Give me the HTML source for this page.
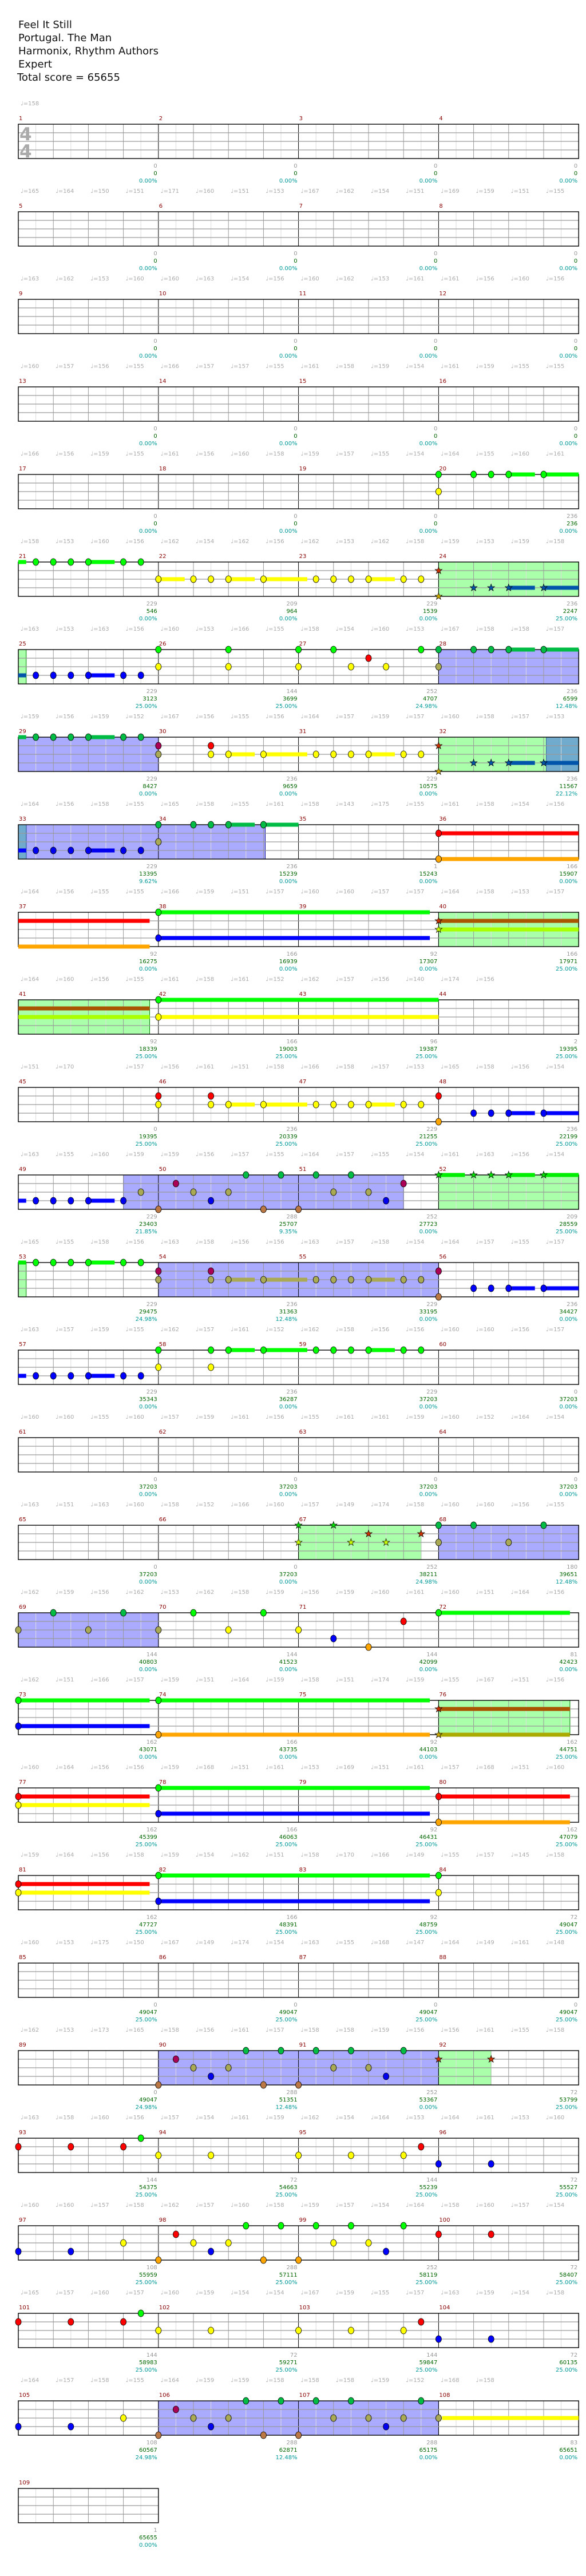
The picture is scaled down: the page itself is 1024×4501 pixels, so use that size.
<!DOCTYPE html>
<html><head><meta charset="utf-8">
<style>
html,body{margin:0;padding:0;background:#fff;}
svg{display:block;}
text{font-family:"DejaVu Sans","Liberation Sans",sans-serif;}
.hd{font-size:18px;fill:#111;}
.mn{font-size:10px;fill:#880000;}
.tp{font-size:10px;fill:#aaaaaa;}
.f1{font-size:10px;fill:#999999;}
.f2{font-size:10px;fill:#006600;}
.f3{font-size:10px;fill:#009999;}
</style></head>
<body>
<svg id="s" xmlns="http://www.w3.org/2000/svg" width="1024" height="4501" viewBox="0 0 1024 4501">
<rect width="1024" height="4501" fill="#fff"/>
<text class="hd" x="32" y="49">Feel It Still</text>
<text class="hd" x="32" y="72">Portugal. The Man</text>
<text class="hd" x="32" y="95">Harmonix, Rhythm Authors</text>
<text class="hd" x="32" y="118">Expert</text>
<text class="hd" x="30" y="141">Total score = 65655</text>
<g id="L0"></g><g id="L1"></g><g id="L2"></g><g id="L3"></g><g id="L4"></g><g id="L5"></g>
</svg>
<script>
var NS="http://www.w3.org/2000/svg";
var layers=[0,1,2,3,4,5].map(function(i){return document.getElementById("L"+i);});
function el(layer,tag,attrs,txt){var e=document.createElementNS(NS,tag);for(var k in attrs)e.setAttribute(k,attrs[k]);if(txt!==undefined)e.textContent=txt;layers[layer].appendChild(e);return e;}
function X(p){return 32+p*30.6;}
function T(r){return 217+153*r;}
var C={G:"#00ff00",R:"#ff0000",Y:"#ffff00",B:"#0000ff",O:"#ffa500"};
var CB={G:"#00bb44",R:"#aa0055",Y:"#aaaa55",B:"#0000ee",O:"#bb7744"};
var CG={G:"#00ee00",R:"#aa5500",Y:"#aaff00",B:"#0055aa",O:"#aaaa00"};
var CS={G:"#00dd00",R:"#cc3300",Y:"#ccff00",B:"#0055aa",O:"#ccaa00"};
var regs={};
function reg(r,a,b,t){(regs[r]=regs[r]||[]).push([a,b,t]);
 var col=t=="g"?"#aaffaa":(t=="b"?"#aaaaff":"#70aacc");var st=t=="g"?"#008800":(t=="b"?"#000088":"#336699");
 el(0,"rect",{x:X(a),y:T(r),width:X(b)-X(a),height:60,fill:col,stroke:st,"stroke-width":1});}
function inreg(r,p,t){var L=regs[r]||[];for(var i=0;i<L.length;i++){if(L[i][2]==t&&p>=L[i][0]-0.01&&p<=L[i][1]+0.01)return true;}return false;}
function col(r,p,c){if(inreg(r,p,"b"))return CB[c];if(inreg(r,p,"g"))return CG[c];return C[c];}
function n(r,p,l,c){el(4,"ellipse",{cx:X(p),cy:T(r)+15*l,rx:5,ry:6,fill:col(r,p,c),stroke:"#000","stroke-width":0.8});}
function sus(r,a,b,l,c){var cc=inreg(r,a+0.1,"b")?CB[c]:(inreg(r,a+0.1,"g")?CG[c]:C[c]);
 el(3,"rect",{x:X(a),y:T(r)+15*l-3.5,width:X(b)-X(a),height:7,fill:cc});}
function st(r,p,l,c){var cx=X(p),cy=T(r)+15*l,pts=[];for(var i=0;i<10;i++){var rr=i%2?2.6:6.5,an=-Math.PI/2+i*Math.PI/5;pts.push((cx+rr*Math.cos(an)).toFixed(1)+","+(cy+rr*Math.sin(an)).toFixed(1));}
 el(5,"polygon",{points:pts.join(" "),fill:CS[c],stroke:"#000","stroke-width":0.7});}
function intro(r,l,c,seven){sus(r,0,0.45,l,c);[1,2,3,4].forEach(function(p){n(r,p,l,c);});sus(r,4,5.5,l,c);n(r,6,l,c);if(seven!==false)n(r,7,l,c);}
function riffA(r,l,c){n(r,8,l,c);sus(r,8,9.5,l,c);n(r,10,l,c);n(r,11,l,c);riffTail(r,l,c);}
function riffB(r,l,c){n(r,8,l,c);n(r,11,l,c);riffTail(r,l,c);}
function riffTail(r,l,c){n(r,12,l,c);sus(r,12,13.5,l,c);n(r,14,l,c);sus(r,14,16.5,l,c);[17,18,19,20].forEach(function(p){n(r,p,l,c);});sus(r,20,21.5,l,c);n(r,22,l,c);n(r,23,l,c);}
function tail(r,l,c,star){var f=star?st:n;[26,27,28].forEach(function(p){f(r,p,l,c);});sus(r,28,29.5,l,c);f(r,30,l,c);sus(r,30,32,l,c);}
function starPat(r){reg(r,24,32,"g");st(r,24,1,"R");st(r,24,4,"O");tail(r,3,"B",true);}

/* ---- regions first ---- */
reg(5,24,32,"g");
reg(6,0,0.45,"g");reg(6,24,32,"b");
reg(7,0,8,"b");reg(7,24,32,"g");reg(7,30.15,32,"t");
reg(8,0.45,14.1,"b");reg(8,0,0.45,"t");
reg(9,24,32,"g");reg(10,0,7.5,"g");
reg(12,6,22,"b");reg(12,24,32,"g");
reg(13,0,0.45,"g");reg(13,8,24,"b");
reg(16,16,23,"g");reg(16,24,32,"b");
reg(17,0,8,"b");reg(18,24,31.5,"g");
reg(22,8,24,"b");reg(22,24,27,"g");
reg(26,8,24,"b");

/* ---- grid ---- */
var tempos={
0:[158],
1:[165,164,150,151,171,160,151,153,167,162,154,151,169,159,151,155],
2:[163,162,153,160,160,163,154,156,160,162,153,161,161,156,160,156],
3:[160,157,156,155,166,157,157,155,161,158,159,154,161,159,155,155],
4:[166,156,159,155,161,156,160,158,159,157,155,154,164,155,160,161],
5:[158,153,160,156,162,154,162,156,162,153,162,158,159,153,159,158],
6:[163,153,163,156,160,153,166,155,158,154,160,153,167,158,158,157],
7:[159,156,159,152,167,156,155,156,164,157,159,157,160,158,157,153],
8:[164,156,158,155,165,158,155,161,158,143,175,155,161,158,154,156],
9:[164,156,155,155,166,159,151,157,160,160,157,157,164,158,153,157],
10:[164,160,156,155,161,158,161,152,162,157,156,140,174,156],
11:[151,170,null,157,156,161,151,158,166,158,157,153,165,158,156,154],
12:[163,155,160,159,159,156,157,155,164,157,155,154,161,163,156,154],
13:[165,155,158,156,163,158,156,156,163,157,158,154,164,157,155,157],
14:[163,157,159,155,162,157,161,152,162,158,156,156,160,160,156,157],
15:[160,160,155,160,157,159,161,156,155,161,161,159,160,152,164,154],
16:[163,151,163,160,158,152,166,160,157,149,174,158,160,160,156,155],
17:[162,159,156,162,153,162,158,159,156,159,160,161,160,151,164,156],
18:[162,151,166,157,159,151,164,159,158,151,174,159,155,167,151,156],
19:[160,164,156,156,159,168,151,161,153,169,151,161,157,168,151,160],
20:[159,164,156,158,159,154,162,151,158,170,166,149,155,157,145,158],
21:[160,153,175,150,167,149,174,154,163,155,168,147,164,149,161,148],
22:[162,153,173,165,158,156,161,157,158,158,159,156,156,161,155,158],
23:[163,158,160,156,157,154,161,159,162,154,164,153,164,161,153,160],
24:[160,160,157,158,162,157,160,158,159,157,154,164,158,160,157,154],
25:[165,157,160,157,160,159,154,154,167,159,155,157,163,159,154,158],
26:[164,157,158,155,164,159,159,158,158,158,159,152,168,158],
27:[]};
var foot={
0:[["0","0","0.00%"],["0","0","0.00%"],["0","0","0.00%"],["0","0","0.00%"]],
1:[["0","0","0.00%"],["0","0","0.00%"],["0","0","0.00%"],["0","0","0.00%"]],
2:[["0","0","0.00%"],["0","0","0.00%"],["0","0","0.00%"],["0","0","0.00%"]],
3:[["0","0","0.00%"],["0","0","0.00%"],["0","0","0.00%"],["0","0","0.00%"]],
4:[["0","0","0.00%"],["0","0","0.00%"],["0","0","0.00%"],["236","236","0.00%"]],
5:[["229","546","0.00%"],["209","964","0.00%"],["229","1539","0.00%"],["236","2247","25.00%"]],
6:[["229","3123","25.00%"],["144","3699","25.00%"],["252","4707","24.98%"],["236","6599","12.48%"]],
7:[["229","8427","0.00%"],["236","9659","0.00%"],["229","10575","0.00%"],["236","11567","22.12%"]],
8:[["229","13395","9.62%"],["236","15239","0.00%"],["1","15243","0.00%"],["166","15907","0.00%"]],
9:[["92","16275","0.00%"],["166","16939","0.00%"],["92","17307","0.00%"],["166","17971","25.00%"]],
10:[["92","18339","25.00%"],["166","19003","25.00%"],["96","19387","25.00%"],["2","19395","25.00%"]],
11:[["0","19395","25.00%"],["236","20339","25.00%"],["229","21255","25.00%"],["236","22199","25.00%"]],
12:[["229","23403","21.85%"],["288","25707","9.35%"],["252","27723","0.00%"],["209","28559","25.00%"]],
13:[["229","29475","24.98%"],["236","31363","12.48%"],["229","33195","0.00%"],["236","34427","0.00%"]],
14:[["229","35343","0.00%"],["236","36287","0.00%"],["229","37203","0.00%"],["0","37203","0.00%"]],
15:[["0","37203","0.00%"],["0","37203","0.00%"],["0","37203","0.00%"],["0","37203","0.00%"]],
16:[["0","37203","0.00%"],["0","37203","0.00%"],["252","38211","24.98%"],["180","39651","12.48%"]],
17:[["144","40803","0.00%"],["144","41523","0.00%"],["144","42099","0.00%"],["81","42423","0.00%"]],
18:[["162","43071","0.00%"],["166","43735","0.00%"],["92","44103","0.00%"],["162","44751","25.00%"]],
19:[["162","45399","25.00%"],["166","46063","25.00%"],["92","46431","25.00%"],["162","47079","25.00%"]],
20:[["162","47727","25.00%"],["166","48391","25.00%"],["92","48759","25.00%"],["72","49047","25.00%"]],
21:[["0","49047","25.00%"],["0","49047","25.00%"],["0","49047","25.00%"],["0","49047","25.00%"]],
22:[["0","49047","24.98%"],["288","51351","12.48%"],["252","53367","0.00%"],["72","53799","25.00%"]],
23:[["144","54375","25.00%"],["72","54663","25.00%"],["144","55239","25.00%"],["72","55527","25.00%"]],
24:[["108","55959","25.00%"],["288","57111","25.00%"],["252","58119","25.00%"],["72","58407","25.00%"]],
25:[["144","58983","25.00%"],["72","59271","25.00%"],["144","59847","25.00%"],["72","60135","25.00%"]],
26:[["108","60567","24.98%"],["288","62871","12.48%"],["288","65175","0.00%"],["83","65651","0.00%"]],
27:[["1","65655","0.00%"]]};
for(var r=0;r<28;r++){
 var t=T(r),nm=(r==27)?1:4,W=8*nm;
 for(var e=1;e<W;e++){el(1,"line",{x1:X(e),y1:t,x2:X(e),y2:t+60,stroke:(e%8==0)?"#000":(e%2==0?"#999":"#dddddd"),"stroke-width":1});}
 for(var l=1;l<4;l++)el(1,"line",{x1:X(0),y1:t+15*l,x2:X(W),y2:t+15*l,stroke:"#999","stroke-width":1.2});
 el(2,"rect",{x:X(0),y:t,width:X(W)-X(0),height:60,fill:"none",stroke:"#000","stroke-width":1.4});
 for(var m=0;m<nm;m++){
  el(2,"text",{class:"mn",x:X(8*m)+1,y:t-7},String(4*r+m+1));
  var f=foot[r][m],xe=X(8*(m+1))-2;
  el(2,"text",{class:"f1",x:xe,y:t+76,"text-anchor":"end"},f[0]);
  el(2,"text",{class:"f2",x:xe,y:t+89,"text-anchor":"end"},f[1]);
  el(2,"text",{class:"f3",x:xe,y:t+102,"text-anchor":"end"},f[2]);
 }
 var tl=tempos[r]||[];
 for(var k=0;k<tl.length;k++){if(tl[k]===null)continue;el(2,"text",{class:"tp",x:X(2*k)+4,y:t-33},"\u2669="+tl[k]);}
}
el(2,"text",{x:34,y:245,"font-size":31,"font-weight":"bold",fill:"#aaaaaa"},"4");
el(2,"text",{x:34,y:275,"font-size":31,"font-weight":"bold",fill:"#aaaaaa"},"4");

/* ---- notes ---- */
// row 4
n(4,24,0,"G");tail(4,0,"G");n(4,24,2,"Y");
// row 5
intro(5,0,"G");riffA(5,2,"Y");st(5,24,1,"R");st(5,24,4,"O");tail(5,3,"B",true);
// row 6
intro(6,3,"B");[8,12,16,18,23,24].forEach(function(p){n(6,p,0,"G");});n(6,20,1,"R");
[8,12,16,19,21,24].forEach(function(p){n(6,p,2,"Y");});tail(6,0,"G");
// row 7
intro(7,0,"G");n(7,8,1,"R");n(7,11,1,"R");riffB(7,2,"Y");st(7,24,1,"R");st(7,24,4,"O");tail(7,3,"B",true);
// row 8
intro(8,3,"B");n(8,8,0,"G");n(8,10,0,"G");n(8,11,0,"G");n(8,12,0,"G");sus(8,12,13.5,0,"G");n(8,14,0,"G");sus(8,14,16,0,"G");
n(8,8,2,"Y");n(8,24,1,"R");sus(8,24,32,1,"R");n(8,24,4,"O");sus(8,24,32,4,"O");
// row 9
sus(9,0,7.5,1,"R");sus(9,0,7.5,4,"O");n(9,8,0,"G");sus(9,8,23.5,0,"G");n(9,8,3,"B");sus(9,8,23.5,3,"B");
st(9,24,1,"R");sus(9,24,32,1,"R");st(9,24,2,"Y");sus(9,24,32,2,"Y");
// row 10
sus(10,0,7.5,1,"R");sus(10,0,7.5,2,"Y");n(10,8,0,"G");sus(10,8,24,0,"G");n(10,8,2,"Y");sus(10,8,24,2,"Y");
// row 11
n(11,8,1,"R");n(11,11,1,"R");riffB(11,2,"Y");n(11,24,1,"R");n(11,24,4,"O");tail(11,3,"B");
// row 12
intro(12,3,"B",false);[7,10,12,18,20].forEach(function(p){n(12,p,2,"Y");});n(12,9,1,"R");n(12,22,1,"R");
n(12,11,3,"B");n(12,21,3,"B");[8,14,16].forEach(function(p){n(12,p,4,"O");});[13,15,17,19].forEach(function(p){n(12,p,0,"G");});
st(12,24,0,"G");sus(12,24,25.5,0,"G");tail(12,0,"G",true);
// row 13
intro(13,0,"G");n(13,8,1,"R");n(13,11,1,"R");riffB(13,2,"Y");n(13,24,1,"R");n(13,24,4,"O");tail(13,3,"B");
// row 14
intro(14,3,"B");riffB(14,0,"G");n(14,8,2,"Y");n(14,11,2,"Y");
// row 16
st(16,16,0,"G");st(16,18,0,"G");st(16,20,1,"R");st(16,23,1,"R");st(16,16,2,"Y");st(16,19,2,"Y");st(16,21,2,"Y");
[24,26,30].forEach(function(p){n(16,p,0,"G");});n(16,24,2,"Y");n(16,28,2,"Y");
// row 17
n(17,2,0,"G");n(17,6,0,"G");n(17,0,2,"Y");n(17,4,2,"Y");n(17,8,2,"Y");
n(17,10,0,"G");n(17,14,0,"G");n(17,12,2,"Y");n(17,16,2,"Y");n(17,18,3,"B");n(17,20,4,"O");n(17,22,1,"R");
n(17,24,0,"G");sus(17,24,31.5,0,"G");
// row 18
n(18,0,0,"G");sus(18,0,7.5,0,"G");n(18,0,3,"B");sus(18,0,7.5,3,"B");n(18,8,0,"G");sus(18,8,23.5,0,"G");
n(18,8,4,"O");sus(18,8,23.5,4,"O");st(18,24,1,"R");sus(18,24,31.5,1,"R");sus(18,24,31.5,4,"O");st(18,24,4,"O");
// row 19
n(19,0,1,"R");sus(19,0,7.5,1,"R");n(19,0,2,"Y");sus(19,0,7.5,2,"Y");n(19,8,0,"G");sus(19,8,23.5,0,"G");
n(19,8,3,"B");sus(19,8,23.5,3,"B");n(19,24,1,"R");sus(19,24,31.5,1,"R");n(19,24,4,"O");sus(19,24,31.5,4,"O");
// row 20
n(20,0,1,"R");sus(20,0,7.5,1,"R");n(20,0,2,"Y");sus(20,0,7.5,2,"Y");n(20,8,0,"G");sus(20,8,23.5,0,"G");
n(20,8,3,"B");sus(20,8,23.5,3,"B");n(20,24,0,"G");n(20,24,2,"Y");
// row 22
n(22,9,1,"R");[10,12,18,20].forEach(function(p){n(22,p,2,"Y");});n(22,11,3,"B");n(22,21,3,"B");
[8,14,16].forEach(function(p){n(22,p,4,"O");});[13,15,17,19,22].forEach(function(p){n(22,p,0,"G");});
st(22,24,1,"R");st(22,27,1,"R");
// rows 23,25
[23,25].forEach(function(r){[0,3,6].forEach(function(p){n(r,p,1,"R");});n(r,7,0,"G");
 [8,11,16,19,22].forEach(function(p){n(r,p,2,"Y");});n(r,23,1,"R");n(r,24,3,"B");n(r,27,3,"B");});
// row 24
n(24,0,3,"B");n(24,3,3,"B");n(24,6,2,"Y");n(24,8,4,"O");n(24,9,1,"R");n(24,10,2,"Y");n(24,12,2,"Y");n(24,11,3,"B");
[13,15,17,19,22].forEach(function(p){n(24,p,0,"G");});n(24,14,4,"O");n(24,16,4,"O");n(24,18,2,"Y");n(24,20,2,"Y");
n(24,21,3,"B");n(24,24,1,"R");n(24,27,1,"R");
// row 26
n(26,0,3,"B");n(26,3,3,"B");n(26,6,2,"Y");[8,14,16].forEach(function(p){n(26,p,4,"O");});n(26,9,1,"R");
[10,12,18,20,22,24].forEach(function(p){n(26,p,2,"Y");});n(26,11,3,"B");n(26,21,3,"B");
[13,15,17,19,23].forEach(function(p){n(26,p,0,"G");});sus(26,24.2,32,2,"Y");
</script>
</body></html>
